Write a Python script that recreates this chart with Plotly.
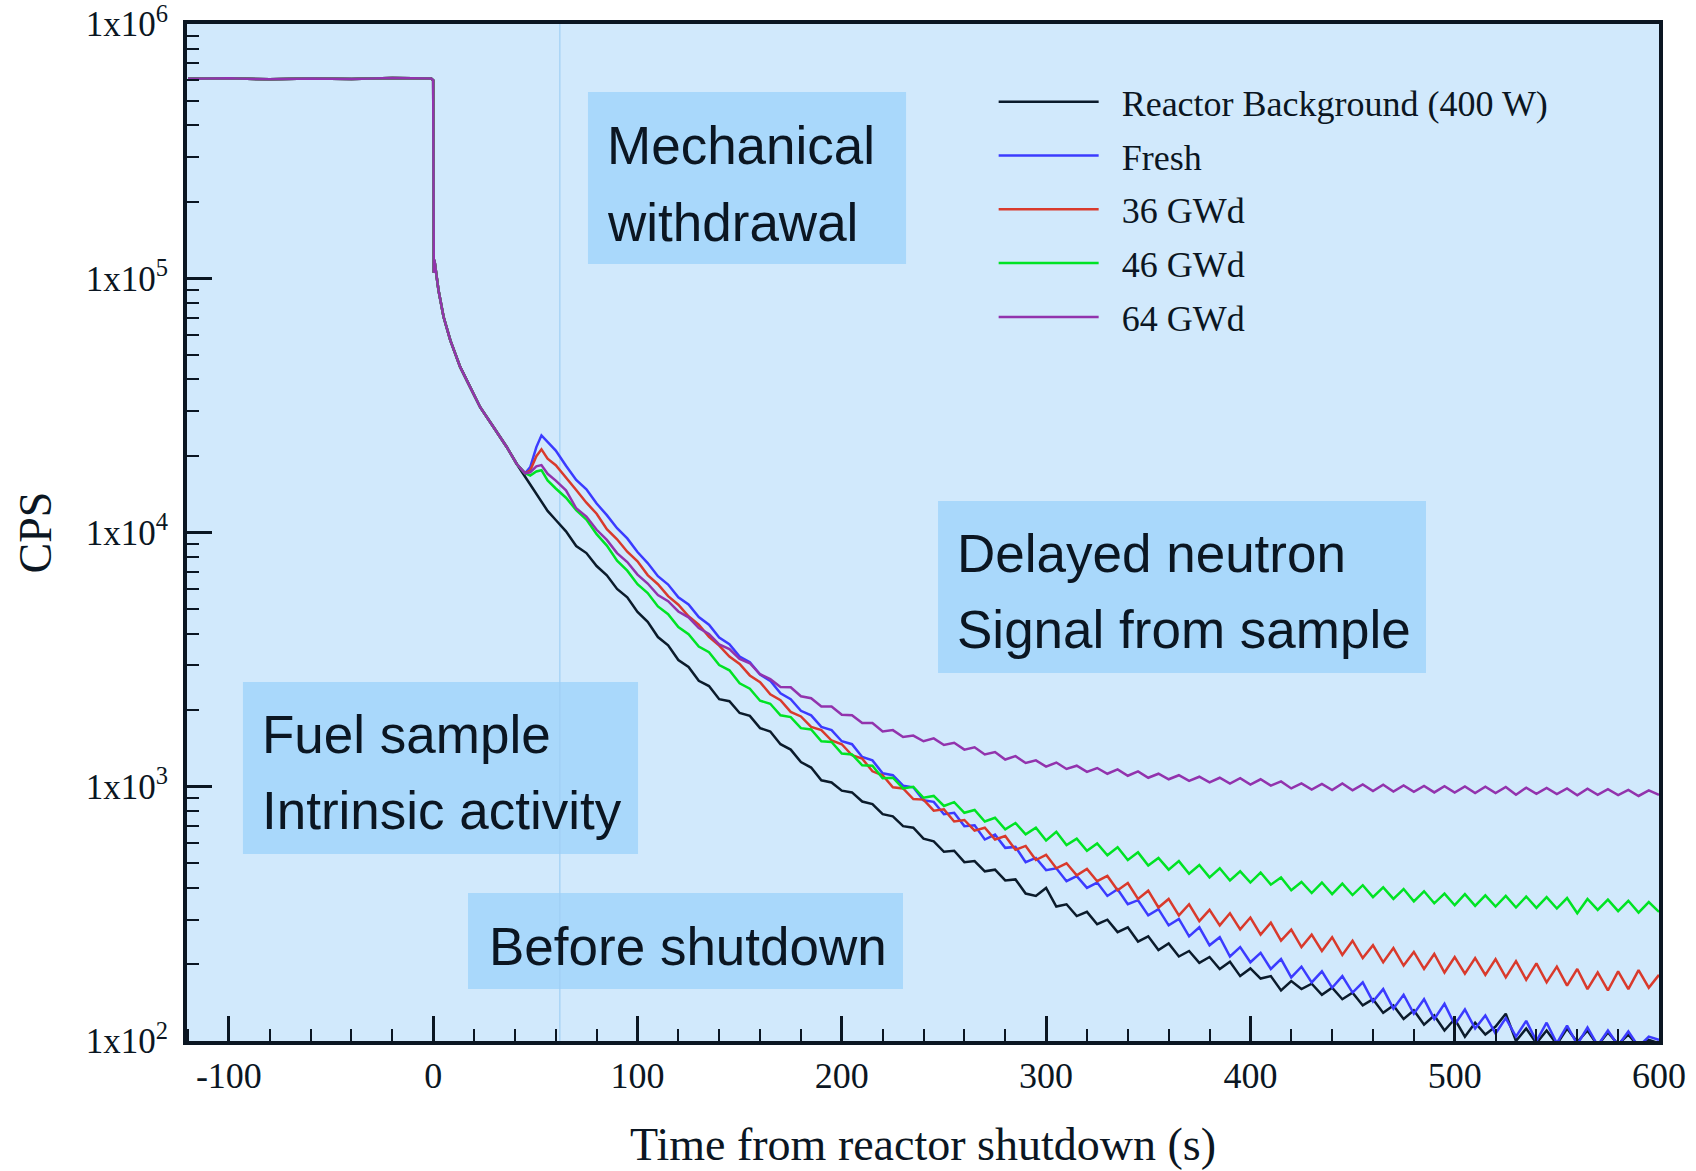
import plotly.graph_objects as go

# ---------------- data ----------------
series_names = ["Reactor Background (400 W)", "Fresh", "36 GWd", "46 GWd", "64 GWd"]
series_colors = ["#0b1b2b", "#3b3bff", "#d93a2c", "#00e324", "#9233ad"]

# common part before shutdown (all curves overlap)
pre_shutdown_t = [-120, -100, -80, -60, -40, -20, -1, 0]
pre_shutdown_cps = [609000, 612000, 606000, 611000, 607000, 613000, 610000, 600000]

# common fast decay just after shutdown (all curves overlap)
early_decay_t = [0.3, 0.6, 2.6, 5.1, 8.4, 13.2, 18.1, 23.0, 29.5, 36.0, 40.9]
early_decay_cps = [105000, 118000, 89700, 70400, 57000, 44800, 37300, 31100, 26000, 21700, 18600]

# individual tails
tail_t = [45, 47.5, 50.5, 53, 56] + list(range(60, 605, 5))

background_cps = [16600, 15490, 14130, 13180, 12160,
    11200, 10100, 8850, 8300, 7380, 6790, 6000, 5560, 4870, 4450,
    3880, 3600, 3150, 2960, 2610, 2490, 2210, 2170, 1950, 1900,
    1700, 1650, 1470, 1400, 1250, 1190, 1060, 1040, 965, 950,
    875, 855, 780, 765, 700, 690, 625, 610, 555, 560,
    505, 510, 465, 472, 428, 432, 380, 372, 400, 338,
    345, 310, 322, 288, 300, 268, 280, 246, 258, 228,
    242, 215, 226, 203, 214, 192, 205, 180, 193, 176,
    180, 158, 172, 160, 168, 152, 162, 146, 155, 138,
    146, 129, 138, 122, 132, 116, 126, 110, 122, 104,
    118, 106, 114, 128, 100, 112, 98, 110, 97, 112,
    99, 110, 96, 108, 97, 106, 95, 101, 98]

fresh_cps = [17100, 18070, 21680, 24100, 22700,
    21000, 18300, 16100, 14800, 13000, 11700, 10400, 9480, 8380, 7580,
    6730, 6240, 5560, 5210, 4650, 4340, 3860, 3640, 3250, 3090,
    2760, 2610, 2330, 2210, 1990, 1910, 1720, 1670, 1510, 1470,
    1310, 1270, 1130, 1110, 1010, 995, 885, 872, 780, 790,
    700, 705, 620, 648, 575, 580, 505, 525, 470, 478,
    425, 445, 400, 420, 372, 395, 345, 358, 312, 330,
    285, 302, 258, 280, 238, 256, 215, 234, 204, 222,
    192, 210, 178, 196, 170, 188, 162, 180, 155, 170,
    143, 160, 134, 152, 128, 146, 122, 140, 116, 133,
    112, 126, 107, 123, 104, 120, 100, 118, 98, 115,
    97, 113, 96, 110, 96, 109, 95, 104, 101]

gwd36_cps = [17100, 17540, 19950, 21230, 19500,
    18400, 16500, 14700, 13100, 11850, 10300, 9400, 8400, 7700, 6800,
    6260, 5620, 5200, 4680, 4340, 3890, 3590, 3250, 3040, 2740,
    2580, 2310, 2190, 1970, 1890, 1720, 1670, 1520, 1470, 1330,
    1290, 1150, 1110, 995, 985, 895, 890, 805, 815, 730,
    740, 672, 690, 620, 640, 565, 585, 515, 540, 478,
    500, 448, 475, 425, 446, 392, 418, 362, 390, 335,
    362, 312, 345, 296, 328, 285, 318, 275, 306, 262,
    292, 248, 274, 234, 262, 226, 256, 218, 248, 212,
    238, 204, 232, 198, 224, 192, 220, 186, 214, 184,
    212, 182, 210, 178, 206, 174, 202, 170, 196, 165,
    192, 160, 186, 158, 188, 160, 190, 162, 182]

gwd46_cps = [17100, 16750, 17380, 17580, 16030,
    14900, 13700, 12250, 11250, 9850, 8880, 7750, 7080, 6260, 5780,
    5120, 4770, 4250, 3980, 3560, 3380, 3010, 2870, 2550, 2430,
    2180, 2120, 1910, 1880, 1700, 1680, 1510, 1500, 1350, 1340,
    1215, 1210, 1080, 1085, 985, 1000, 905, 920, 840, 870,
    790, 810, 730, 755, 680, 720, 650, 690, 615, 665,
    590, 625, 560, 598, 538, 578, 515, 552, 490, 525,
    472, 510, 455, 492, 440, 478, 428, 465, 420, 460,
    412, 440, 392, 422, 382, 420, 378, 416, 375, 410,
    368, 402, 362, 396, 354, 388, 348, 380, 342, 378,
    340, 374, 338, 372, 335, 370, 334, 368, 332, 365,
    318, 362, 328, 360, 324, 356, 320, 352, 322]

gwd64_cps = [17100, 17260, 18200, 18410, 17020,
    16000, 14650, 12450, 11550, 10250, 9350, 8300, 7650, 6830, 6300,
    5680, 5370, 4890, 4640, 4210, 3990, 3630, 3480, 3180, 3060,
    2770, 2650, 2470, 2460, 2270, 2230, 2070, 2070, 1920, 1910,
    1780, 1780, 1650, 1670, 1570, 1590, 1510, 1550, 1460, 1490,
    1400, 1430, 1340, 1370, 1280, 1320, 1240, 1270, 1200, 1245,
    1175, 1210, 1145, 1185, 1125, 1170, 1105, 1150, 1085, 1125,
    1070, 1110, 1055, 1095, 1040, 1085, 1030, 1080, 1020, 1070,
    1010, 1050, 985, 1030, 975, 1025, 970, 1030, 968, 1022,
    962, 1018, 958, 1012, 955, 1008, 950, 1005, 948, 1002,
    945, 1000, 944, 998, 930, 992, 938, 990, 935, 985,
    925, 982, 930, 978, 928, 972, 920, 968, 930]

series_tails = [background_cps, fresh_cps, gwd36_cps, gwd46_cps, gwd64_cps]

x_tick_vals = [-100, 0, 100, 200, 300, 400, 500, 600]
x_tick_text = ["-100", "0", "100", "200", "300", "400", "500", "600"]
y_tick_vals = [1e2, 1e3, 1e4, 1e5, 1e6]
y_tick_text = ["1x10<sup>2</sup>", "1x10<sup>3</sup>", "1x10<sup>4</sup>",
               "1x10<sup>5</sup>", "1x10<sup>6</sup>"]

withdrawal_marker_t = 62

# ---------------- styling ----------------
INK = "#0b1622"
PLOT_BG = "#d1e9fc"
BOX_BG = "#a9d8fb"
SERIF = "Liberation Serif"
SANS = "Liberation Sans"
LEGEND_PAD = "\u00a0\u00a0"

fig = go.Figure()
full_t = pre_shutdown_t + early_decay_t + tail_t
for name, color, tail in zip(series_names, series_colors, series_tails):
    fig.add_trace(go.Scatter(
        x=full_t,
        y=pre_shutdown_cps + early_decay_cps + tail,
        mode="lines", name=LEGEND_PAD + name, legendgroup=name,
        line=dict(color=color, width=2.5),
    ))

# annotation boxes (paper coords) and their text lines
boxes = [
    dict(x0=0.2724, x1=0.4885, y0=0.7640, y1=0.9331, tx=0.2838,
         lines=[("Mechanical", 0.8810), ("withdrawal", 0.8053)]),
    dict(x0=0.5102, x1=0.8417, y0=0.3619, y1=0.5310, tx=0.5216,
         lines=[("Delayed neutron", 0.4789), ("Signal from sample", 0.4051)]),
    dict(x0=0.0380, x1=0.3064, y0=0.1839, y1=0.3530, tx=0.0494,
         lines=[("Fuel sample", 0.3009), ("Intrinsic activity", 0.2262)]),
    dict(x0=0.1909, x1=0.4864, y0=0.0511, y1=0.1455, tx=0.2036,
         lines=[("Before shutdown", 0.0934)]),
]
shapes = []
annotations = []
for b in boxes:
    shapes.append(dict(type="rect", xref="paper", yref="paper",
                       x0=b["x0"], x1=b["x1"], y0=b["y0"], y1=b["y1"],
                       fillcolor=BOX_BG, line=dict(width=0), layer="below"))
    for txt, ty in b["lines"]:
        annotations.append(dict(xref="paper", yref="paper", x=b["tx"], y=ty,
                                xanchor="left", yanchor="middle", align="left",
                                showarrow=False, text=txt,
                                font=dict(family=SANS, size=53, color=INK)))
shapes.append(dict(type="line", xref="x", yref="paper",
                   x0=withdrawal_marker_t, x1=withdrawal_marker_t, y0=0, y1=1,
                   line=dict(color="#9fcff4", width=1.2), layer="below"))

minor_y = [m * 10 ** e for e in range(2, 6) for m in range(2, 10)]

fig.update_layout(
    width=1696, height=1171,
    margin=dict(l=187, r=37, t=24, b=130, autoexpand=False),
    paper_bgcolor="white", plot_bgcolor=PLOT_BG,
    font=dict(family=SERIF, color=INK),
    shapes=shapes, annotations=annotations,
    showlegend=True,
    legend=dict(x=0.548, y=0.953, xanchor="left", yanchor="top",
                bgcolor="rgba(0,0,0,0)", borderwidth=0,
                font=dict(family=SERIF, size=36, color=INK),
                itemwidth=100, tracegroupgap=4),
    xaxis=dict(
        range=[-120.5, 600], tickmode="array", tickvals=x_tick_vals,
        ticktext=x_tick_text, ticklabeloverflow="allow",
        ticks="inside", ticklen=25, tickwidth=3, tickcolor=INK,
        minor=dict(tickmode="linear", tick0=0, dtick=20, ticks="inside",
                   ticklen=12, tickwidth=2, tickcolor=INK, showgrid=False),
        showline=True, linewidth=4, linecolor=INK, mirror=True,
        showgrid=False, zeroline=False,
        tickfont=dict(family=SERIF, size=36, color=INK),
        title=dict(text="Time from reactor shutdown (s)", standoff=34,
                   font=dict(family=SERIF, size=46, color=INK)),
    ),
    yaxis=dict(
        type="log", range=[2, 6], tickmode="array",
        tickvals=y_tick_vals, ticktext=y_tick_text,
        ticklabeloverflow="allow",
        ticks="inside", ticklen=25, tickwidth=3, tickcolor=INK,
        ticklabelstandoff=8,
        minor=dict(tickmode="array", tickvals=minor_y, ticks="inside",
                   ticklen=12, tickwidth=2, tickcolor=INK, showgrid=False),
        showline=True, linewidth=4, linecolor=INK, mirror=True,
        showgrid=False, zeroline=False,
        tickfont=dict(family=SERIF, size=35, color=INK),
        title=dict(text="CPS", standoff=21,
                   font=dict(family=SERIF, size=46, color=INK)),
    ),
)

fig.write_html("out.html")
